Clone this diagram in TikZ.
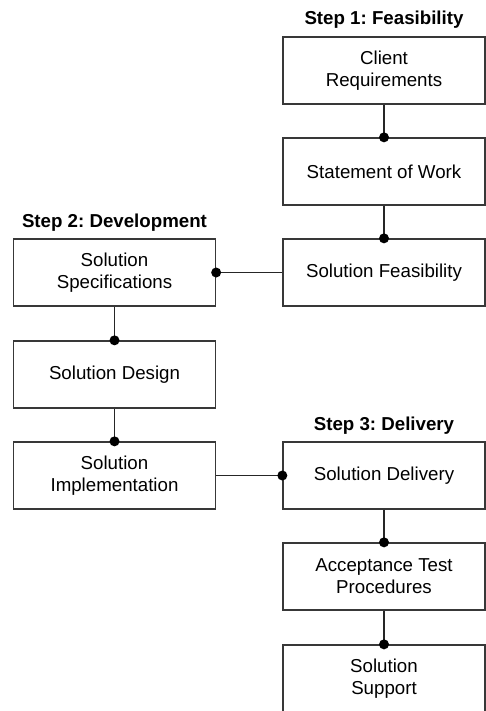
\documentclass[tikz,border=0pt]{standalone}
\usepackage{fontspec}
\setmainfont{Liberation Sans}
\frenchspacing
\begin{document}
\begin{tikzpicture}[x=1pt,y=-1pt,
  box/.style={draw=black!78, line width=1.3pt, minimum width=202pt, minimum height=67pt,
    inner sep=0pt, align=center, font=\fontsize{18.7}{22}\selectfont},
  title/.style={anchor=base, font=\fontsize{18.7}{22}\selectfont\bfseries},
  link/.style={draw=black!85, line width=1.4pt},
  dot/.style={fill=black}]
\useasboundingbox (0,0) rectangle (486,711);
\clip (0,0) rectangle (486,711);

% Step 1: feasibility column
\node[title] (t1) at (384,25) {Step 1: Feasibility};
\node[box] (req)  at (384,70.5)  {Client\\Requirements};
\node[box] (sow)  at (384,171.5) {Statement of Work};
\node[box] (feas) at (384,272.5) {Solution Feasibility};

% Step 2: development column
\node[title] (t2) at (114.5,227) {Step 2: Development};
\node[box] (spec) at (114.5,272.5) {Solution\\Specifications};
\node[box] (des)  at (114.5,374.5) {Solution Design};
\node[box] (impl) at (114.5,475.5) {Solution\\Implementation};

% Step 3: delivery column
\node[title] (t3) at (384,430) {Step 3: Delivery};
\node[box] (del)  at (384,475.5) {Solution Delivery};
\node[box] (atp)  at (384,576.5) {Acceptance Test\\Procedures};
\node[box] (sup)  at (384,678.5) {Solution\\Support};

% connectors, each ending in a dot on the receiving box
\draw[link] (req.south) -- (sow.north);   \fill[dot] (sow.north) circle (5pt);
\draw[link] (sow.south) -- (feas.north);  \fill[dot] (feas.north) circle (5pt);
\draw[link] (feas.west) -- (spec.east);   \fill[dot] (spec.east) circle (5pt);
\draw[link] (spec.south) -- (des.north);  \fill[dot] (des.north) circle (5pt);
\draw[link] (des.south) -- (impl.north);  \fill[dot] (impl.north) circle (5pt);
\draw[link] (impl.east) -- (del.west);    \fill[dot] (del.west) circle (5pt);
\draw[link] (del.south) -- (atp.north);   \fill[dot] (atp.north) circle (5pt);
\draw[link] (atp.south) -- (sup.north);   \fill[dot] (sup.north) circle (5pt);
\end{tikzpicture}
\end{document}
